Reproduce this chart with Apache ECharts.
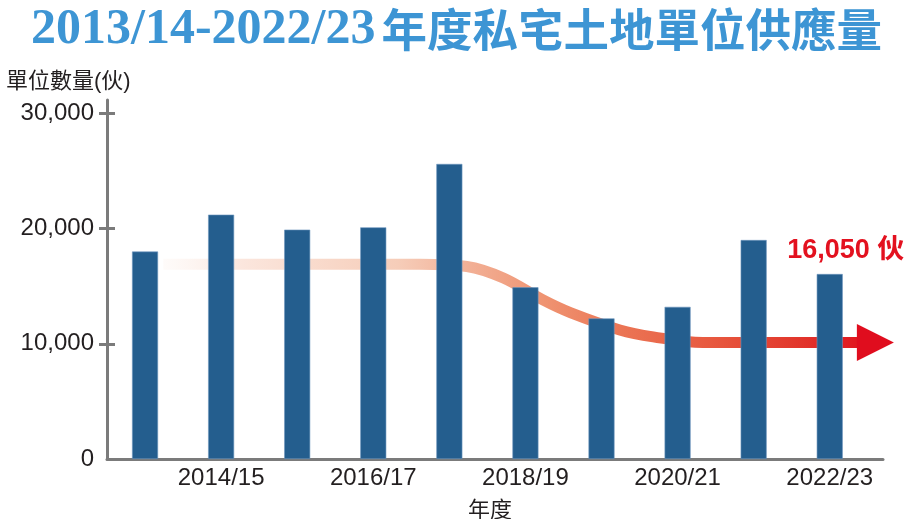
<!DOCTYPE html>
<html>
<head>
<meta charset="utf-8">
<script src="https://cdn.jsdelivr.net/npm/echarts@6/dist/echarts.min.js"></script>
<style>
html,body{margin:0;padding:0;background:#fff;}
#chart{width:907px;height:519px;}
</style>
</head>
<body>
<div id="chart"></div>
<script>
// ---- data ----
const categories = ['2013/14','2014/15','2015/16','2016/17','2017/18','2018/19','2019/20','2020/21','2021/22','2022/23'];
const supplyUnits = [18000, 21200, 19900, 20100, 25600, 14900, 12200, 13200, 19000, 16050];
const xLabelIndex = [1, 3, 5, 7, 9];
const yLabelValues = [0, 10000, 20000, 30000];
const yTickValues = [10000, 20000, 30000];
// decorative trend arrow (x in category-index units, y in units)
const trendX = [0.24, 2.04, 3.61, 4.23, 4.71, 5.23, 5.59, 6.24, 6.68, 7.33, 8.35, 9.36];
const trendY = [16900, 16900, 16900, 16700, 15700, 13800, 12700, 11200, 10600, 10100, 10100, 10100];
const arrowHead = [9.60, 10100];
const highlightIndex = 9;

const titleYears = '2013/14-2022/23';
const titleWords = '年度私宅土地單位供應量';
const yName = '單位數量(伙)';
const xName = '年度';

// ---- chart ----
const chart = echarts.init(document.getElementById('chart'), null, {renderer: 'canvas'});
const axisGray = '#7b7b7b';
const textDark = '#231f20';
const titleBlue = '#3d95d4';
const fontLatin = '"Liberation Sans", "Noto Sans CJK TC", sans-serif';

const barData = supplyUnits.map((v, i) => {
  const item = {value: [i, v]};
  if (i === highlightIndex) {
    item.label = {
      show: true,
      position: 'top',
      distance: 5,
      offset: [16, -5],
      formatter: (p) => p.value[1].toLocaleString('en-US') + ' 伙',
      color: '#e3111f',
      fontSize: 27,
      fontWeight: 'bold',
      fontFamily: fontLatin
    };
  }
  return item;
});

const option = {
  animation: false,
  backgroundColor: '#ffffff',
  title: [
    {
      text: '{d|' + titleYears + '}{c|' + titleWords + '}',
      left: 26,
      top: 0,
      textStyle: {
        rich: {
          d: {
            color: titleBlue,
            fontSize: 50,
            lineHeight: 50,
            fontWeight: 'bold',
            fontFamily: '"Liberation Serif", serif'
          },
          c: {
            color: titleBlue,
            fontSize: 45.5,
            lineHeight: 50,
            fontWeight: 'bold',
            padding: [0, 0, 0, 6],
            fontFamily: '"Noto Sans CJK TC", sans-serif'
          }
        }
      }
    },
    {
      text: yName,
      left: 1,
      top: 64,
      textStyle: {color: textDark, fontSize: 22, lineHeight: 26, fontWeight: 'normal', fontFamily: fontLatin}
    },
    {
      text: xName,
      left: 463,
      top: 493,
      textStyle: {color: textDark, fontSize: 22, lineHeight: 26, fontWeight: 'normal', fontFamily: fontLatin}
    }
  ],
  grid: {
    left: 107,
    right: 24,
    top: 100,
    bottom: 60,
    containLabel: false,
    outerBoundsMode: 'none'
  },
  xAxis: {
    type: 'value',
    min: -0.5,
    max: 9.7,
    splitLine: {show: false},
    axisLine: {show: true, onZero: false, lineStyle: {color: axisGray, width: 3}},
    axisTick: {show: false},
    axisLabel: {
      show: true,
      customValues: xLabelIndex,
      formatter: (v) => categories[Math.round(v)],
      color: textDark,
      fontSize: 24,
      fontFamily: fontLatin,
      margin: 7
    }
  },
  yAxis: [
    {
      type: 'value',
      min: 0,
      max: 31150,
      splitLine: {show: false},
      axisLine: {show: true, onZero: false, lineStyle: {color: axisGray, width: 3}},
      axisTick: {show: true, inside: false, length: 8, customValues: yTickValues, lineStyle: {color: axisGray, width: 3}},
      axisLabel: {
        show: true,
        customValues: yLabelValues,
        formatter: (v) => v.toLocaleString('en-US'),
        color: textDark,
        fontSize: 24,
        fontFamily: fontLatin,
        margin: 13
      }
    },
    {
      type: 'value',
      min: 0,
      max: 31150,
      position: 'left',
      splitLine: {show: false},
      axisLine: {show: false, onZero: false},
      axisTick: {show: true, inside: true, length: 8, customValues: yTickValues, lineStyle: {color: axisGray, width: 3}},
      axisLabel: {show: false}
    }
  ],
  series: [
    {
      type: 'line',
      name: 'trend',
      data: trendX.map((x, i) => [x, trendY[i]]),
      smooth: 0.35,
      symbol: 'none',
      z: 1,
      silent: true,
      lineStyle: {
        width: 11,
        cap: 'butt',
        color: new echarts.graphic.LinearGradient(0, 0, 1, 0, [
          {offset: 0, color: 'rgba(252,240,234,0.2)'},
          {offset: 0.12, color: '#fbe6dd'},
          {offset: 0.34, color: '#f6cdb9'},
          {offset: 0.44, color: '#f2b096'},
          {offset: 0.55, color: '#ef9371'},
          {offset: 0.66, color: '#eb7454'},
          {offset: 0.78, color: '#e85a40'},
          {offset: 0.90, color: '#e2392d'},
          {offset: 1, color: '#e0151f'}
        ])
      }
    },
    {
      type: 'scatter',
      name: 'arrow',
      data: [arrowHead],
      symbol: 'triangle',
      symbolSize: [37, 37],
      symbolRotate: -90,
      itemStyle: {color: '#e00d1e', opacity: 1},
      z: 3,
      silent: true,
      clip: false
    },
    {
      type: 'bar',
      name: 'supply',
      data: barData,
      barWidth: 26,
      z: 2,
      itemStyle: {color: '#245e8e', borderColor: '#6d96bd', borderWidth: 0.6}
    }
  ]
};
chart.setOption(option);
</script>
</body>
</html>
